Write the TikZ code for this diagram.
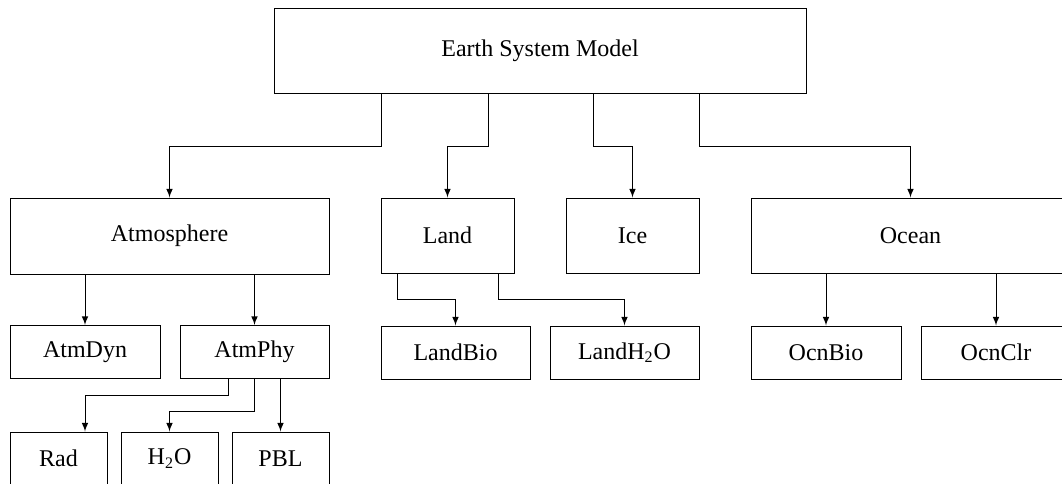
\documentclass[tikz,border=0pt]{standalone}
\usepackage{fontspec}
\setmainfont{Liberation Serif}
\usetikzlibrary{calc}

\begin{document}
\begin{tikzpicture}[x=0.5pt,y=-0.5pt,>=latex,line width=0.5pt,
  box/.style={draw,inner sep=0pt,font=\fontsize{12}{14}\selectfont}]
  \useasboundingbox (0,0) rectangle (1062,483);

  \node[box,minimum width=266pt,minimum height=42.5pt] (ESM) at (540,50.5) {Earth System Model};

  \node[box,minimum width=159.5pt,minimum height=38pt] (Atm) at (169.5,236) {Atmosphere};
  \node[box,minimum width=66.5pt,minimum height=37.5pt] (Land) at (447.5,235.5) {Land};
  \node[box,minimum width=66.5pt,minimum height=37.5pt] (Ice) at (632.5,235.5) {Ice};
  \node[box,minimum width=159.5pt,minimum height=37.5pt] (Ocn) at (910.5,235.5) {Ocean};

  \node[box,minimum width=75pt,minimum height=26.5pt] (AtmDyn) at (85,352) {AtmDyn};
  \node[box,minimum width=74.5pt,minimum height=26.5pt] (AtmPhy) at (254.5,352) {AtmPhy};
  \node[box,minimum width=74.5pt,minimum height=26.5pt] (LandBio) at (455.5,352.5) {LandBio};
  \node[box,minimum width=74.5pt,minimum height=26.5pt] (LandH2O) at (624.5,352.5) {LandH\textsubscript{2}O};
  \node[box,minimum width=75pt,minimum height=26.5pt] (OcnBio) at (826,352.5) {OcnBio};
  \node[box,minimum width=75pt,minimum height=26.5pt] (OcnClr) at (996,352.5) {OcnClr};

  \node[box,minimum width=48.5pt,minimum height=26.5pt] (Rad) at (58.5,458.5) {Rad};
  \node[box,minimum width=48.5pt,minimum height=26.5pt] (H2O) at (169.5,458.5) {H\textsubscript{2}O};
  \node[box,minimum width=48.5pt,minimum height=26.5pt] (PBL) at (280.5,458.5) {PBL};

  \draw[->] ($(ESM.south)+(-159,0)$) -- ++(0,53) -| (Atm.north);
  \draw[->] ($(ESM.south)+(-52,0)$) -- ++(0,53) -| (Land.north);
  \draw[->] ($(ESM.south)+(53,0)$) -- ++(0,53) -| (Ice.north);
  \draw[->] ($(ESM.south)+(159,0)$) -- ++(0,53) -| (Ocn.north);

  \draw[->] (Atm.south -| AtmDyn.north) -- (AtmDyn.north);
  \draw[->] (Atm.south -| AtmPhy.north) -- (AtmPhy.north);
  \draw[->] ($(Land.south)+(-50.5,0)$) -- ++(0,26) -| (LandBio.north);
  \draw[->] ($(Land.south)+(50.5,0)$) -- ++(0,26) -| (LandH2O.north);
  \draw[->] (Ocn.south -| OcnBio.north) -- (OcnBio.north);
  \draw[->] (Ocn.south -| OcnClr.north) -- (OcnClr.north);

  \draw[->] ($(AtmPhy.south)+(-26.5,0)$) -- ++(0,16) -| (AtmDyn.south |- Rad.north);
  \draw[->] (AtmPhy.south) -- ++(0,32) -| (H2O.north);
  \draw[->] (PBL.north |- AtmPhy.south) -- (PBL.north);
\end{tikzpicture}
\end{document}
